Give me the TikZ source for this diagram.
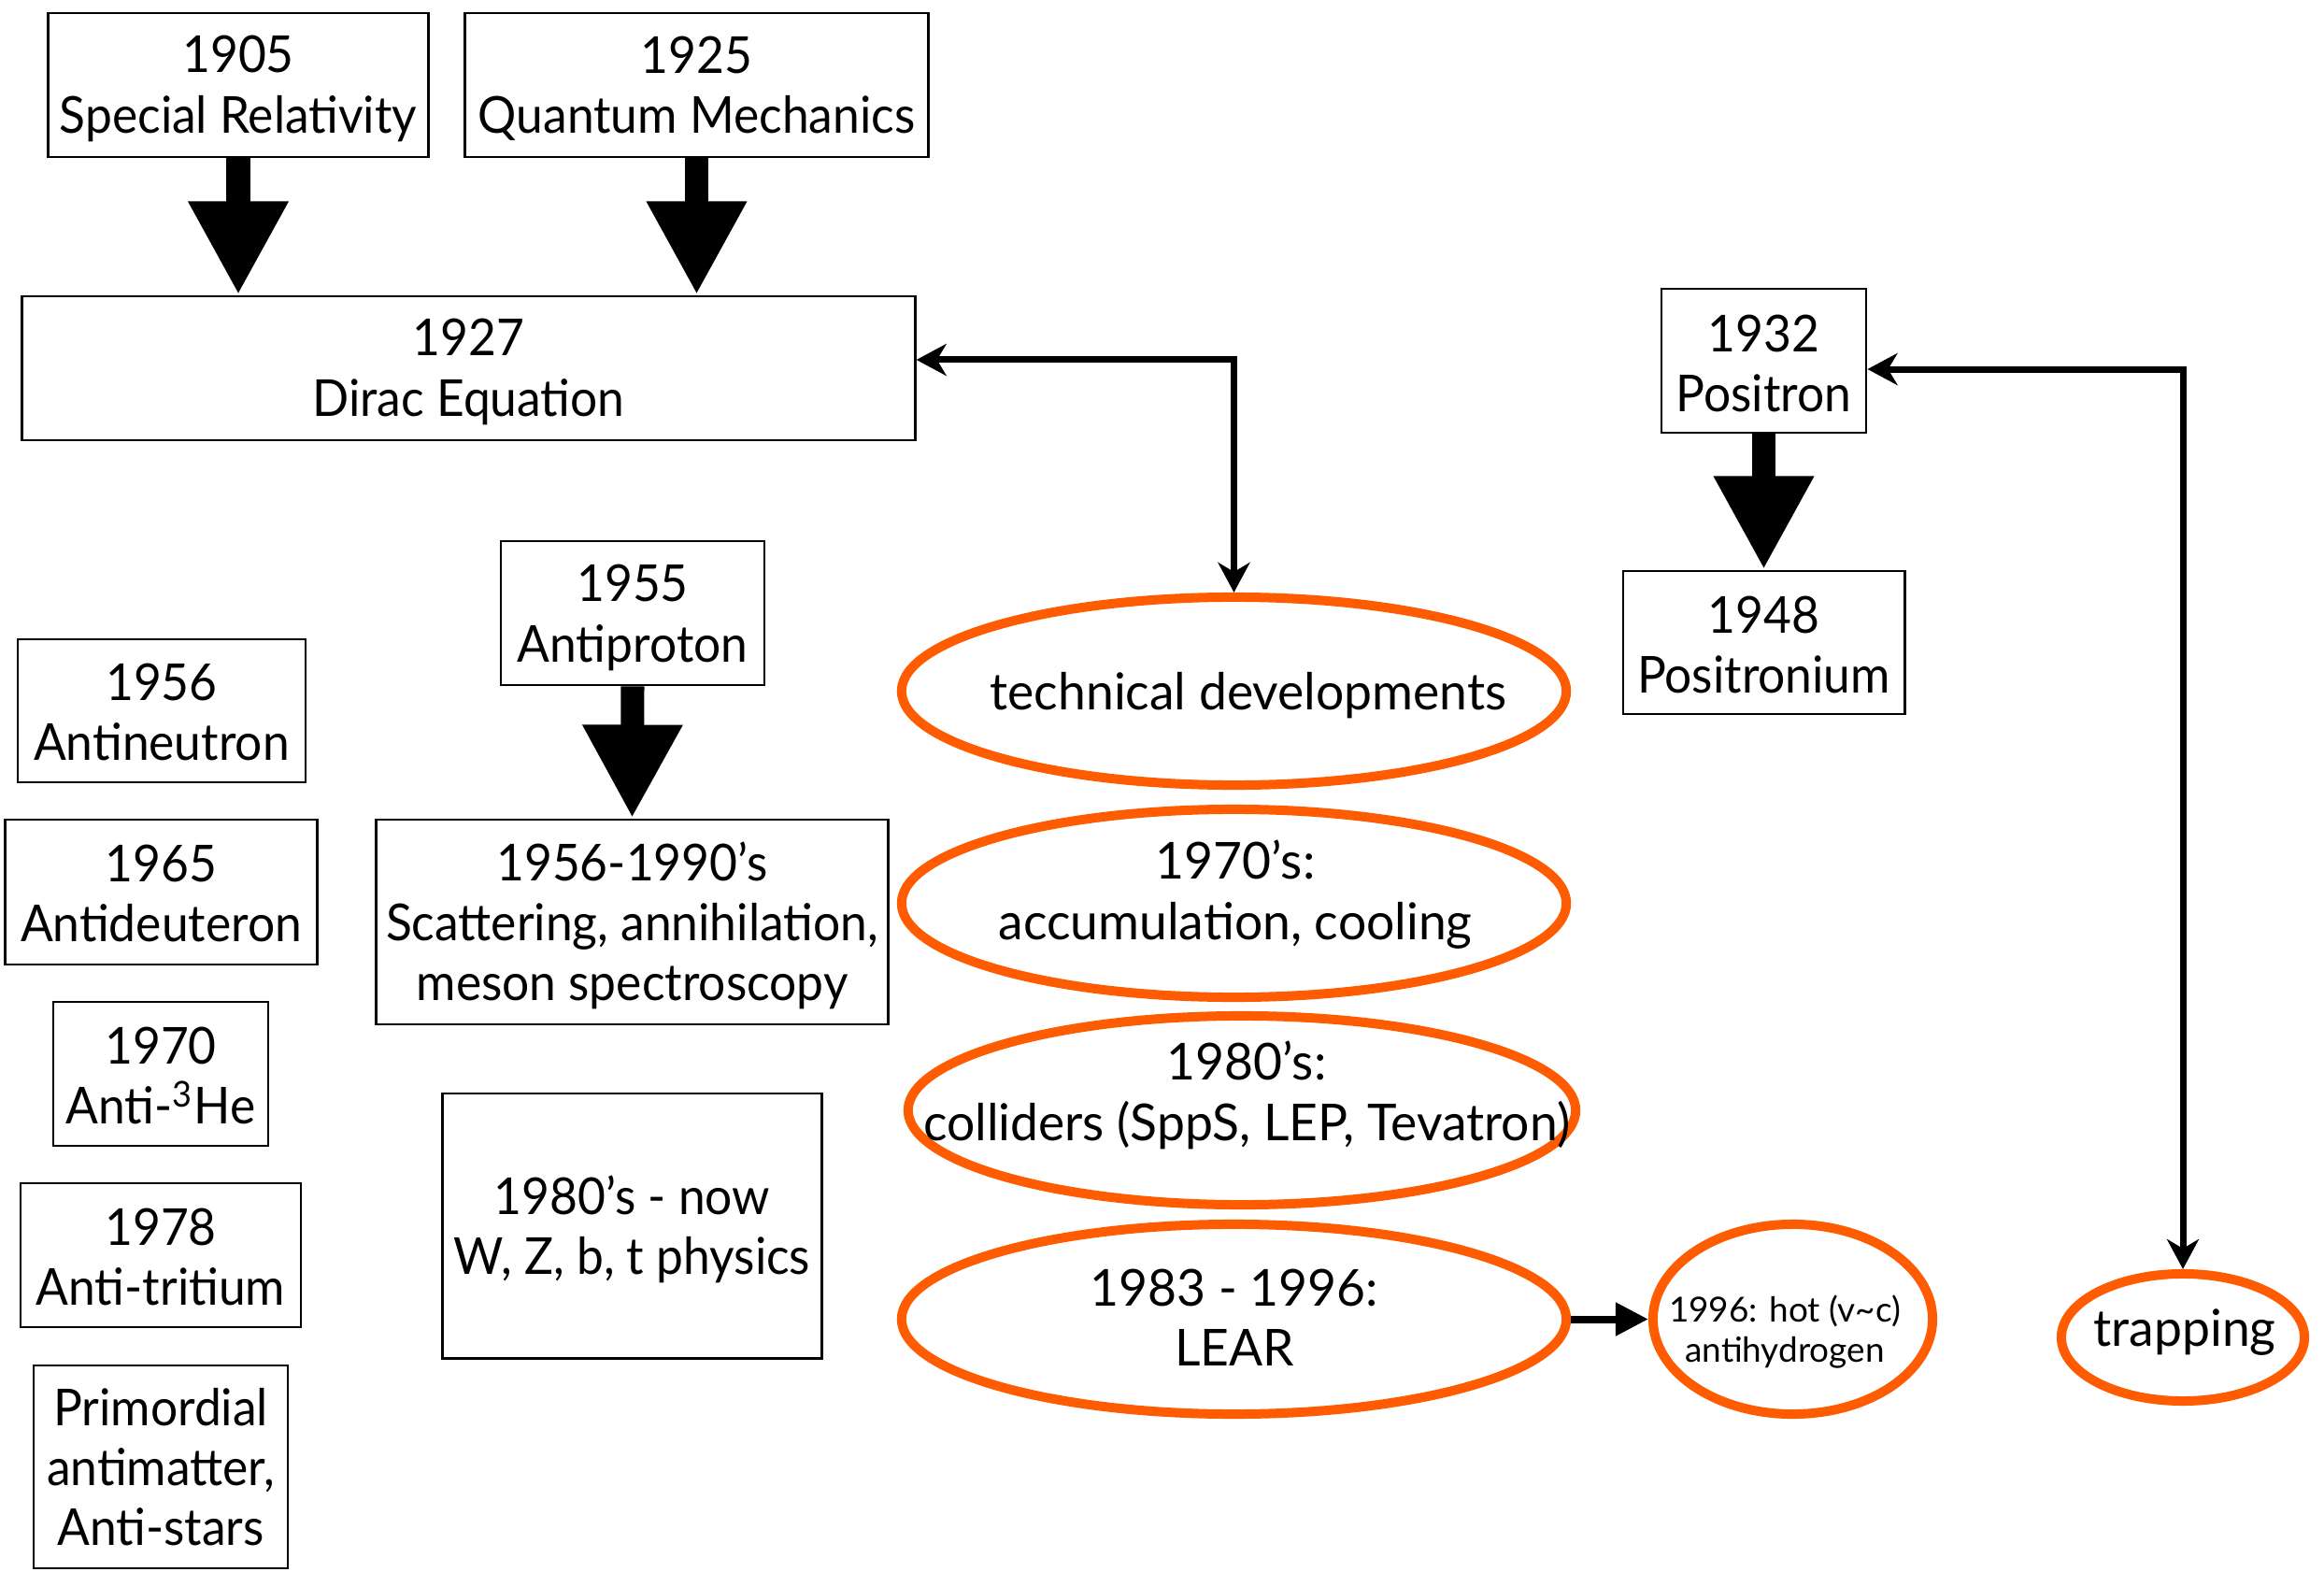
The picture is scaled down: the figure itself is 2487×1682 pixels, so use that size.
\documentclass[tikz,border=0pt]{standalone}
\usepackage{fontspec}
\setmainfont{Lato}
\newfontfamily\boxfont[FakeStretch=0.945]{Lato}
\newfontfamily\ovalfont[FakeStretch=0.98]{Lato}
\usetikzlibrary{arrows.meta,shapes.geometric}
\definecolor{hotorange}{RGB}{255,91,0}
\newcommand{\mainsize}{\fontsize{15.5}{18.3}\selectfont}
\newcommand{\smallsize}{\fontsize{10.5}{12.3}\selectfont}
% raises the top of a first line so the text block sits a little lower
\newcommand{\lift}[1]{\rule{0pt}{#1}}
\begin{document}
\begin{tikzpicture}[x=0.01cm, y=-0.01cm,
  event/.style={draw, line width=0.8pt, align=center, inner sep=0pt, font=\boxfont\mainsize},
  oval/.style={ellipse, draw=hotorange, line width=0.1cm, inner sep=0pt},
  ovaltext/.style={align=center, inner sep=0pt, font=\ovalfont\mainsize},
  fatarrow/.style={line width=0.25cm, -{Triangle[length=1cm,width=1cm]}},
  linkarrow/.style={line width=0.07cm,
    {Stealth[length=0.32cm,width=0.34cm,inset=0.1cm]}-{Stealth[length=0.32cm,width=0.34cm,inset=0.1cm]}},
  pusharrow/.style={line width=0.08cm, -{Triangle[length=0.35cm,width=0.34cm]}}
]
\useasboundingbox (0,0) rectangle (2487,1682);

% theory boxes
\node[event, minimum width=4.06cm, minimum height=1.54cm] (sr) at (255,91) {\lift{13.5pt}1905\\Special Relativity};
\node[event, minimum width=4.95cm, minimum height=1.54cm] (qm) at (745.5,91) {\lift{13.5pt}1925\\Quantum Mechanics};
\node[event, minimum width=9.55cm, minimum height=1.54cm] (dirac) at (501.5,394) {\lift{13.5pt}1927\\Dirac Equation};

% positron branch
\node[event, minimum width=2.19cm, minimum height=1.54cm] (positron) at (1887.5,386) {\lift{13pt}1932\\Positron};
\node[event, minimum width=3.01cm, minimum height=1.53cm] (positronium) at (1887.5,687.5) {\lift{12.5pt}1948\\Positronium};

% antiproton branch
\node[event, minimum width=2.82cm, minimum height=1.54cm] (antiproton) at (677,656) {\lift{14pt}1955\\Antiproton};
\node[event, minimum width=5.47cm, minimum height=2.19cm] (scatter) at (676.5,986.5) {\lift{14pt}1956-1990’s\\Scattering, annihilation,\\meson spectroscopy};
\node[event, minimum width=4.05cm, minimum height=2.83cm] (wzbt) at (676.5,1311.5) {\lift{14pt}1980’s - now\\W, Z, b, t physics};

% antinuclei column
\node[event, minimum width=3.08cm, minimum height=1.53cm] (antineutron) at (173,760.5) {\lift{12pt}1956\\Antineutron};
\node[event, minimum width=3.33cm, minimum height=1.55cm] (antideuteron) at (172.5,954.5) {\lift{12pt}1965\\Antideuteron};
\node[event, minimum width=2.30cm, minimum height=1.54cm] (antihe) at (172,1149) {\lift{12.5pt}1970\\Anti-\textsuperscript{3}He};
\node[event, minimum width=3.00cm, minimum height=1.54cm] (antitritium) at (172,1343) {\lift{12.5pt}1978\\Anti-tritium};
\node[event, minimum width=2.72cm, minimum height=2.17cm] (primordial) at (172,1569.5) {Primordial\\antimatter,\\Anti-stars};

% technical developments
\node[oval, minimum width=7.11cm, minimum height=2.01cm] (tech) at (1320.5,739.5) {};
\node[oval, minimum width=7.11cm, minimum height=2.01cm] (accum) at (1320.5,966.5) {};
\node[oval, minimum width=7.14cm, minimum height=2.02cm] (coll) at (1329,1188) {};
\node[oval, minimum width=7.11cm, minimum height=2.03cm] (lear) at (1320.5,1411.5) {};
\node[oval, minimum width=2.99cm, minimum height=2.03cm] (hot) at (1918.5,1411.5) {};
\node[oval, minimum width=2.60cm, minimum height=1.36cm] (trap) at (2336,1431) {};

\node[ovaltext] (tech-t) at (1336,744) {technical developments};
\node[ovaltext] (accum-t) at (1322,957) {1970’s:\\accumulation, cooling};
\node[ovaltext] (coll-t) at (1334,1172) {1980’s:\\colliders (SppS, LEP, Tevatron)};
\node[ovaltext] (lear-t) at (1321,1410) {1983 - 1996:\\LEAR};
\node[ovaltext, font=\smallsize] (hot-t) at (1910,1425) {1996: hot (v\textasciitilde c)\\antihydrogen};
\node[ovaltext] (trap-t) at (2338,1426) {trapping};

% block arrows
\draw[fatarrow] (sr.south) -- (sr.south |- dirac.north);
\draw[fatarrow] (qm.south) -- (qm.south |- dirac.north);
\draw[fatarrow] (positron.south) -- (positronium.north);
\draw[fatarrow] (antiproton.south) -- (scatter.north);

% line connectors
\draw[linkarrow] ([yshift=0.09cm]dirac.east) -| (tech.north);
\draw[linkarrow] ([yshift=-0.09cm]positron.east) -| (trap.north);
\draw[pusharrow] (lear.east) -- (hot.west);
\end{tikzpicture}
\end{document}
